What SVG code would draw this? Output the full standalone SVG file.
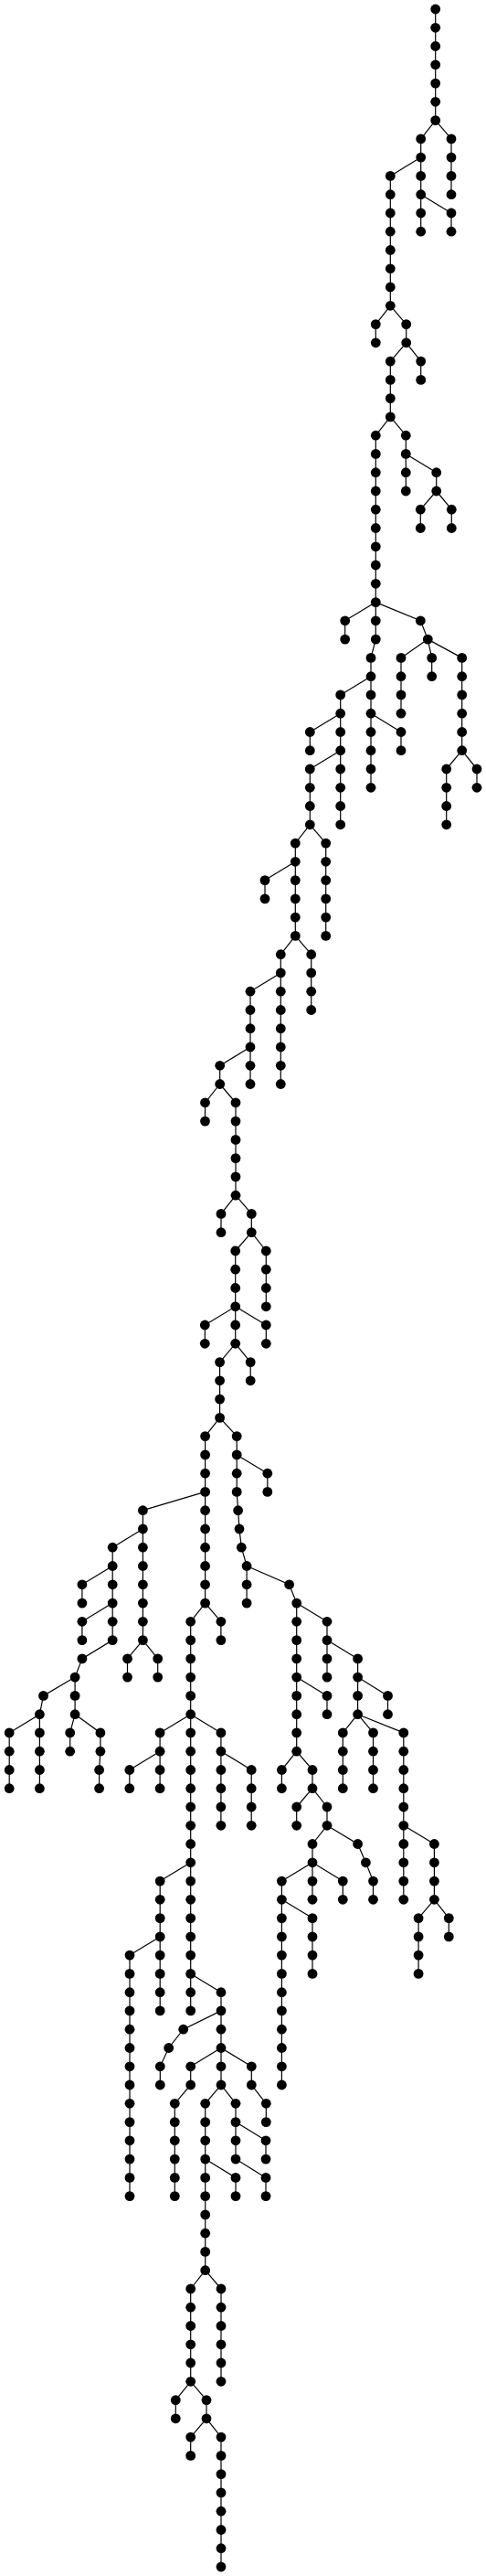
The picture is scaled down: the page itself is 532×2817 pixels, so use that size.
<svg xmlns="http://www.w3.org/2000/svg" width="532" height="2817" viewBox="0 0 532 2817">
<style>
circle{fill:#000}
#edges path{fill:none;stroke:#000;stroke-width:1.2}
</style>
<rect width="532" height="2817" fill="#fff"/>
<g id="edges">
<path d="M476.7 10V131.6"/>
<path d="M494 151.9V212.7"/>
<path d="M460.7 151.9V253.2"/>
<path d="M494 233V253.2"/>
<path d="M427.3 192.4V334.3"/>
<path d="M411.3 354.6V374.8"/>
<path d="M444.7 354.6V374.8"/>
<path d="M460.7 395.1V415.4"/>
<path d="M427.3 395.1V455.9"/>
<path d="M444.3 476.2V537"/>
<path d="M477.7 516.7V537"/>
<path d="M460.3 557.2V577.5"/>
<path d="M494.3 557.2V577.5"/>
<path d="M411.3 476.2V699.1"/>
<path d="M377.7 678.8V699.1"/>
<path d="M406 719.4V861.3"/>
<path d="M372.7 759.9V901.8"/>
<path d="M339.3 800.5V820.7"/>
<path d="M339.3 841V901.8"/>
<path d="M439 800.5V820.7"/>
<path d="M439 719.4V780.2"/>
<path d="M472.7 719.4V739.7"/>
<path d="M505.7 719.4V820.7"/>
<path d="M488.7 841V901.8"/>
<path d="M522 841V861.3"/>
<path d="M323.3 922.1V1023.4"/>
<path d="M356.7 922.1V1023.4"/>
<path d="M290 962.6V982.9"/>
<path d="M340.7 1043.7V1104.5"/>
<path d="M307.3 1043.7V1185.5"/>
<path d="M274 1084.2V1185.5"/>
<path d="M240.7 1165.3V1185.5"/>
<path d="M224.5 1205.8V1226.1"/>
<path d="M258 1205.8V1307.2"/>
<path d="M242 1327.4V1347.7"/>
<path d="M275.3 1327.4V1347.7"/>
<path d="M291.3 1368V1428.8"/>
<path d="M257.7 1368V1469.3"/>
<path d="M224.3 1449V1469.3"/>
<path d="M291.3 1449V1469.3"/>
<path d="M274.2 1489.6V1509.8"/>
<path d="M240.6 1489.6V1550.4"/>
<path d="M224.6 1570.6V1753.1"/>
<path d="M259.2 1570.6V1631.4L260.6 1651.7L262 1672L264.3 1692.2L270.1 1712.5V1753.1"/>
<path d="M292.8 1611.2V1631.4"/>
<path d="M324.7 1753.1V1915.2"/>
<path d="M358 1854.4V1874.7"/>
<path d="M358 1773.3V1834.1"/>
<path d="M391.6 1813.9V1874.7"/>
<path d="M424.5 1854.4V1874.7"/>
<path d="M375.3 1894.9V1955.7"/>
<path d="M408.5 1894.9V1955.7"/>
<path d="M441.8 1894.9V2077.3"/>
<path d="M475.4 2016.5V2077.3"/>
<path d="M458.1 2097.6V2158.4"/>
<path d="M491.3 2097.6V2117.9"/>
<path d="M308.4 1935.5V1955.7"/>
<path d="M342 1935.5V1955.7"/>
<path d="M324.7 1976V1996.3"/>
<path d="M358 1976V1996.3"/>
<path d="M342 2016.5V2077.3"/>
<path d="M375.3 2057.1V2077.3"/>
<path d="M308.4 2057.1V2280"/>
<path d="M342 2097.6V2158.4"/>
<path d="M358 1996.3L391.6 2016.5L400.4 2036.8L408.5 2057.1V2077.3"/>
<path d="M156.4 1651.7V1793.6"/>
<path d="M139.5 1813.9V1834.1"/>
<path d="M172.7 1813.9V1834.1"/>
<path d="M123.2 1692.2V1793.6L89.9 1813.9L82.1 1834.1V1874.7"/>
<path d="M89.9 1732.8V1753.1"/>
<path d="M89.9 1773.3V1793.6"/>
<path d="M82.1 1834.1L47.5 1854.4L43.4 1874.7V1955.7"/>
<path d="M10.2 1894.9V1955.7"/>
<path d="M76.7 1894.9V1915.2"/>
<path d="M82.1 1874.7L109.9 1894.9V1915.2L108.6 1935.5V1955.7"/>
<path d="M241.9 1773.3V1793.6"/>
<path d="M208.7 1773.3V2198.9"/>
<path d="M175.1 1894.9V1955.7"/>
<path d="M141.8 1935.5V1955.7"/>
<path d="M241.9 1894.9V1996.3"/>
<path d="M275.2 1935.5V1996.3"/>
<path d="M175.2 2057.1V2198.9"/>
<path d="M142 2138.1V2401.6"/>
<path d="M242 2178.7V2280"/>
<path d="M242 2198.9L200.7 2219.2L184.7 2239.5L175.3 2259.8V2280"/>
<path d="M208.7 2259.8V2280"/>
<path d="M191.3 2300.3V2401.6"/>
<path d="M275.3 2259.8V2280"/>
<path d="M291.3 2300.3V2320.6"/>
<path d="M224.7 2300.3V2482.7"/>
<path d="M258 2300.3V2361.1"/>
<path d="M291 2340.8V2361.1"/>
<path d="M291 2381.4V2401.6"/>
<path d="M258 2381.4V2401.6"/>
<path d="M208.7 2503V2604.3"/>
<path d="M242 2503V2604.3"/>
<path d="M192.3 2624.6V2644.8"/>
<path d="M226 2624.6V2644.8"/>
<path d="M208.7 2665.1V2685.4"/>
<path d="M242 2665.1V2807"/>
<path d="M476.7 131.6L494 151.9"/>
<path d="M476.7 131.6L460.7 151.9"/>
<path d="M460.7 212.7L494 233"/>
<path d="M460.7 172.1L427.3 192.4"/>
<path d="M427.3 334.3L411.3 354.6"/>
<path d="M427.3 334.3L444.7 354.6"/>
<path d="M444.7 374.8L460.7 395.1"/>
<path d="M444.7 374.8L427.3 395.1"/>
<path d="M427.3 455.9L444.3 476.2"/>
<path d="M427.3 455.9L411.3 476.2"/>
<path d="M444.3 496.4L477.7 516.7"/>
<path d="M477.7 537L460.3 557.2"/>
<path d="M477.7 537L494.3 557.2"/>
<path d="M411.3 658.6L377.7 678.8"/>
<path d="M411.3 658.6L460.3 678.8L468.3 699.1"/>
<path d="M411.3 699.1L406 719.4"/>
<path d="M406 739.7L372.7 759.9"/>
<path d="M372.7 780.2L339.3 800.5"/>
<path d="M372.7 820.7L339.3 841"/>
<path d="M406 780.2L439 800.5"/>
<path d="M468.3 699.1L439 719.4"/>
<path d="M468.3 699.1L472.7 719.4"/>
<path d="M468.3 699.1L505.7 719.4"/>
<path d="M505.7 820.7L488.7 841"/>
<path d="M505.7 820.7L522 841"/>
<path d="M339.3 901.8L323.3 922.1"/>
<path d="M339.3 901.8L356.7 922.1"/>
<path d="M323.3 942.3L290 962.6"/>
<path d="M323.3 1023.4L340.7 1043.7"/>
<path d="M323.3 1023.4L307.3 1043.7"/>
<path d="M307.3 1063.9L274 1084.2"/>
<path d="M274 1145L240.7 1165.3"/>
<path d="M240.7 1185.5L224.5 1205.8"/>
<path d="M240.7 1185.5L258 1205.8"/>
<path d="M258 1307.2L242 1327.4"/>
<path d="M258 1307.2L275.3 1327.4"/>
<path d="M275.3 1347.7L291.3 1368"/>
<path d="M275.3 1347.7L257.7 1368"/>
<path d="M257.7 1428.8L224.3 1449"/>
<path d="M257.7 1428.8L291.3 1449"/>
<path d="M257.7 1469.3L274.2 1489.6"/>
<path d="M257.7 1469.3L240.6 1489.6"/>
<path d="M240.6 1550.4L224.6 1570.6"/>
<path d="M240.6 1550.4L259.2 1570.6"/>
<path d="M259.2 1590.9L292.8 1611.2"/>
<path d="M270.1 1712.5L316.6 1732.8L324.7 1753.1"/>
<path d="M324.7 1834.1L358 1854.4"/>
<path d="M324.7 1753.1L358 1773.3"/>
<path d="M358 1793.6L391.6 1813.9"/>
<path d="M391.6 1834.1L424.5 1854.4"/>
<path d="M391.6 1874.7L375.3 1894.9"/>
<path d="M391.6 1874.7L408.5 1894.9"/>
<path d="M391.6 1874.7L441.8 1894.9"/>
<path d="M441.8 1996.3L475.4 2016.5"/>
<path d="M475.4 2077.3L458.1 2097.6"/>
<path d="M475.4 2077.3L491.3 2097.6"/>
<path d="M324.7 1915.2L308.4 1935.5"/>
<path d="M324.7 1915.2L342 1935.5"/>
<path d="M342 1955.7L324.7 1976"/>
<path d="M342 1955.7L358 1976"/>
<path d="M358 1996.3L342 2016.5"/>
<path d="M342 2036.8L375.3 2057.1"/>
<path d="M342 2036.8L308.4 2057.1"/>
<path d="M308.4 2077.3L342 2097.6"/>
<path d="M224.6 1631.4L156.4 1651.7"/>
<path d="M156.4 1793.6L139.5 1813.9"/>
<path d="M156.4 1793.6L172.7 1813.9"/>
<path d="M156.4 1672L123.2 1692.2"/>
<path d="M123.2 1712.5L89.9 1732.8"/>
<path d="M123.2 1753.1L89.9 1773.3"/>
<path d="M43.4 1874.7L10.2 1894.9"/>
<path d="M82.1 1874.7L76.7 1894.9"/>
<path d="M224.6 1753.1L241.9 1773.3"/>
<path d="M224.6 1753.1L208.7 1773.3"/>
<path d="M208.7 1874.7L175.1 1894.9"/>
<path d="M175.1 1915.2L141.8 1935.5"/>
<path d="M208.7 1874.7L241.9 1894.9"/>
<path d="M241.9 1915.2L275.2 1935.5"/>
<path d="M208.7 2036.8L175.2 2057.1"/>
<path d="M175.2 2117.9L142 2138.1"/>
<path d="M208.7 2158.4L242 2178.7"/>
<path d="M242 2239.5L208.7 2259.8"/>
<path d="M208.7 2280L191.3 2300.3"/>
<path d="M242 2239.5L275.3 2259.8"/>
<path d="M275.3 2280L291.3 2300.3"/>
<path d="M242 2280L224.7 2300.3"/>
<path d="M242 2280L258 2300.3"/>
<path d="M258 2320.6L291 2340.8"/>
<path d="M258 2361.1L291 2381.4"/>
<path d="M224.7 2361.1L258 2381.4"/>
<path d="M224.7 2482.7L208.7 2503"/>
<path d="M224.7 2482.7L242 2503"/>
<path d="M208.7 2604.3L192.3 2624.6"/>
<path d="M208.7 2604.3L226 2624.6"/>
<path d="M226 2644.8L208.7 2665.1"/>
<path d="M226 2644.8L242 2665.1"/>
</g>
<g id="nodes">
<g id="n1"><circle cx="476.7" cy="10" r="5.4"/></g>
<g id="n2"><circle cx="476.7" cy="30.3" r="5.4"/></g>
<g id="n3"><circle cx="476.7" cy="50.5" r="5.4"/></g>
<g id="n4"><circle cx="476.7" cy="70.8" r="5.4"/></g>
<g id="n5"><circle cx="476.7" cy="91.1" r="5.4"/></g>
<g id="n6"><circle cx="476.7" cy="111.3" r="5.4"/></g>
<g id="n7"><circle cx="476.7" cy="131.6" r="5.4"/></g>
<g id="n8"><circle cx="494" cy="151.9" r="5.4"/></g>
<g id="n9"><circle cx="494" cy="172.1" r="5.4"/></g>
<g id="n10"><circle cx="494" cy="192.4" r="5.4"/></g>
<g id="n11"><circle cx="494" cy="212.7" r="5.4"/></g>
<g id="n12"><circle cx="460.7" cy="151.9" r="5.4"/></g>
<g id="n13"><circle cx="460.7" cy="172.1" r="5.4"/></g>
<g id="n14"><circle cx="460.7" cy="192.4" r="5.4"/></g>
<g id="n15"><circle cx="460.7" cy="212.7" r="5.4"/></g>
<g id="n16"><circle cx="460.7" cy="233" r="5.4"/></g>
<g id="n17"><circle cx="460.7" cy="253.2" r="5.4"/></g>
<g id="n18"><circle cx="494" cy="233" r="5.4"/></g>
<g id="n19"><circle cx="494" cy="253.2" r="5.4"/></g>
<g id="n20"><circle cx="427.3" cy="192.4" r="5.4"/></g>
<g id="n21"><circle cx="427.3" cy="212.7" r="5.4"/></g>
<g id="n22"><circle cx="427.3" cy="233" r="5.4"/></g>
<g id="n23"><circle cx="427.3" cy="253.2" r="5.4"/></g>
<g id="n24"><circle cx="427.3" cy="273.5" r="5.4"/></g>
<g id="n25"><circle cx="427.3" cy="293.8" r="5.4"/></g>
<g id="n26"><circle cx="427.3" cy="314" r="5.4"/></g>
<g id="n27"><circle cx="427.3" cy="334.3" r="5.4"/></g>
<g id="n28"><circle cx="411.3" cy="354.6" r="5.4"/></g>
<g id="n29"><circle cx="411.3" cy="374.8" r="5.4"/></g>
<g id="n30"><circle cx="444.7" cy="354.6" r="5.4"/></g>
<g id="n31"><circle cx="444.7" cy="374.8" r="5.4"/></g>
<g id="n32"><circle cx="460.7" cy="395.1" r="5.4"/></g>
<g id="n33"><circle cx="460.7" cy="415.4" r="5.4"/></g>
<g id="n34"><circle cx="427.3" cy="395.1" r="5.4"/></g>
<g id="n35"><circle cx="427.3" cy="415.4" r="5.4"/></g>
<g id="n36"><circle cx="427.3" cy="435.6" r="5.4"/></g>
<g id="n37"><circle cx="427.3" cy="455.9" r="5.4"/></g>
<g id="n38"><circle cx="444.3" cy="476.2" r="5.4"/></g>
<g id="n39"><circle cx="444.3" cy="496.4" r="5.4"/></g>
<g id="n40"><circle cx="444.3" cy="516.7" r="5.4"/></g>
<g id="n41"><circle cx="444.3" cy="537" r="5.4"/></g>
<g id="n42"><circle cx="477.7" cy="516.7" r="5.4"/></g>
<g id="n43"><circle cx="477.7" cy="537" r="5.4"/></g>
<g id="n44"><circle cx="460.3" cy="557.2" r="5.4"/></g>
<g id="n45"><circle cx="460.3" cy="577.5" r="5.4"/></g>
<g id="n46"><circle cx="494.3" cy="557.2" r="5.4"/></g>
<g id="n47"><circle cx="494.3" cy="577.5" r="5.4"/></g>
<g id="n48"><circle cx="411.3" cy="476.2" r="5.4"/></g>
<g id="n49"><circle cx="411.3" cy="496.4" r="5.4"/></g>
<g id="n50"><circle cx="411.3" cy="516.7" r="5.4"/></g>
<g id="n51"><circle cx="411.3" cy="537" r="5.4"/></g>
<g id="n52"><circle cx="411.3" cy="557.2" r="5.4"/></g>
<g id="n53"><circle cx="411.3" cy="577.5" r="5.4"/></g>
<g id="n54"><circle cx="411.3" cy="597.8" r="5.4"/></g>
<g id="n55"><circle cx="411.3" cy="618" r="5.4"/></g>
<g id="n56"><circle cx="411.3" cy="638.3" r="5.4"/></g>
<g id="n57"><circle cx="411.3" cy="658.6" r="5.4"/></g>
<g id="n58"><circle cx="411.3" cy="678.8" r="5.4"/></g>
<g id="n59"><circle cx="411.3" cy="699.1" r="5.4"/></g>
<g id="n60"><circle cx="377.7" cy="678.8" r="5.4"/></g>
<g id="n61"><circle cx="377.7" cy="699.1" r="5.4"/></g>
<g id="n62"><circle cx="460.3" cy="678.8" r="5.4"/></g>
<g id="n63"><circle cx="468.3" cy="699.1" r="5.4"/></g>
<g id="n64"><circle cx="406" cy="719.4" r="5.4"/></g>
<g id="n65"><circle cx="406" cy="739.7" r="5.4"/></g>
<g id="n66"><circle cx="406" cy="759.9" r="5.4"/></g>
<g id="n67"><circle cx="406" cy="780.2" r="5.4"/></g>
<g id="n68"><circle cx="406" cy="800.5" r="5.4"/></g>
<g id="n69"><circle cx="406" cy="820.7" r="5.4"/></g>
<g id="n70"><circle cx="406" cy="841" r="5.4"/></g>
<g id="n71"><circle cx="406" cy="861.3" r="5.4"/></g>
<g id="n72"><circle cx="372.7" cy="759.9" r="5.4"/></g>
<g id="n73"><circle cx="372.7" cy="780.2" r="5.4"/></g>
<g id="n74"><circle cx="372.7" cy="800.5" r="5.4"/></g>
<g id="n75"><circle cx="372.7" cy="820.7" r="5.4"/></g>
<g id="n76"><circle cx="372.7" cy="841" r="5.4"/></g>
<g id="n77"><circle cx="372.7" cy="861.3" r="5.4"/></g>
<g id="n78"><circle cx="372.7" cy="881.5" r="5.4"/></g>
<g id="n79"><circle cx="372.7" cy="901.8" r="5.4"/></g>
<g id="n80"><circle cx="339.3" cy="800.5" r="5.4"/></g>
<g id="n81"><circle cx="339.3" cy="820.7" r="5.4"/></g>
<g id="n82"><circle cx="339.3" cy="841" r="5.4"/></g>
<g id="n83"><circle cx="339.3" cy="861.3" r="5.4"/></g>
<g id="n84"><circle cx="339.3" cy="881.5" r="5.4"/></g>
<g id="n85"><circle cx="339.3" cy="901.8" r="5.4"/></g>
<g id="n86"><circle cx="439" cy="800.5" r="5.4"/></g>
<g id="n87"><circle cx="439" cy="820.7" r="5.4"/></g>
<g id="n88"><circle cx="439" cy="719.4" r="5.4"/></g>
<g id="n89"><circle cx="439" cy="739.7" r="5.4"/></g>
<g id="n90"><circle cx="439" cy="759.9" r="5.4"/></g>
<g id="n91"><circle cx="439" cy="780.2" r="5.4"/></g>
<g id="n92"><circle cx="472.7" cy="719.4" r="5.4"/></g>
<g id="n93"><circle cx="472.7" cy="739.7" r="5.4"/></g>
<g id="n94"><circle cx="505.7" cy="719.4" r="5.4"/></g>
<g id="n95"><circle cx="505.7" cy="739.7" r="5.4"/></g>
<g id="n96"><circle cx="505.7" cy="759.9" r="5.4"/></g>
<g id="n97"><circle cx="505.7" cy="780.2" r="5.4"/></g>
<g id="n98"><circle cx="505.7" cy="800.5" r="5.4"/></g>
<g id="n99"><circle cx="505.7" cy="820.7" r="5.4"/></g>
<g id="n100"><circle cx="488.7" cy="841" r="5.4"/></g>
<g id="n101"><circle cx="488.7" cy="861.3" r="5.4"/></g>
<g id="n102"><circle cx="488.7" cy="881.5" r="5.4"/></g>
<g id="n103"><circle cx="488.7" cy="901.8" r="5.4"/></g>
<g id="n104"><circle cx="522" cy="841" r="5.4"/></g>
<g id="n105"><circle cx="522" cy="861.3" r="5.4"/></g>
<g id="n106"><circle cx="323.3" cy="922.1" r="5.4"/></g>
<g id="n107"><circle cx="323.3" cy="942.3" r="5.4"/></g>
<g id="n108"><circle cx="323.3" cy="962.6" r="5.4"/></g>
<g id="n109"><circle cx="323.3" cy="982.9" r="5.4"/></g>
<g id="n110"><circle cx="323.3" cy="1003.1" r="5.4"/></g>
<g id="n111"><circle cx="323.3" cy="1023.4" r="5.4"/></g>
<g id="n112"><circle cx="356.7" cy="922.1" r="5.4"/></g>
<g id="n113"><circle cx="356.7" cy="942.3" r="5.4"/></g>
<g id="n114"><circle cx="356.7" cy="962.6" r="5.4"/></g>
<g id="n115"><circle cx="356.7" cy="982.9" r="5.4"/></g>
<g id="n116"><circle cx="356.7" cy="1003.1" r="5.4"/></g>
<g id="n117"><circle cx="356.7" cy="1023.4" r="5.4"/></g>
<g id="n118"><circle cx="290" cy="962.6" r="5.4"/></g>
<g id="n119"><circle cx="290" cy="982.9" r="5.4"/></g>
<g id="n120"><circle cx="340.7" cy="1043.7" r="5.4"/></g>
<g id="n121"><circle cx="340.7" cy="1063.9" r="5.4"/></g>
<g id="n122"><circle cx="340.7" cy="1084.2" r="5.4"/></g>
<g id="n123"><circle cx="340.7" cy="1104.5" r="5.4"/></g>
<g id="n124"><circle cx="307.3" cy="1043.7" r="5.4"/></g>
<g id="n125"><circle cx="307.3" cy="1063.9" r="5.4"/></g>
<g id="n126"><circle cx="307.3" cy="1084.2" r="5.4"/></g>
<g id="n127"><circle cx="307.3" cy="1104.5" r="5.4"/></g>
<g id="n128"><circle cx="307.3" cy="1124.7" r="5.4"/></g>
<g id="n129"><circle cx="307.3" cy="1145" r="5.4"/></g>
<g id="n130"><circle cx="307.3" cy="1165.3" r="5.4"/></g>
<g id="n131"><circle cx="307.3" cy="1185.5" r="5.4"/></g>
<g id="n132"><circle cx="274" cy="1084.2" r="5.4"/></g>
<g id="n133"><circle cx="274" cy="1104.5" r="5.4"/></g>
<g id="n134"><circle cx="274" cy="1124.7" r="5.4"/></g>
<g id="n135"><circle cx="274" cy="1145" r="5.4"/></g>
<g id="n136"><circle cx="274" cy="1165.3" r="5.4"/></g>
<g id="n137"><circle cx="274" cy="1185.5" r="5.4"/></g>
<g id="n138"><circle cx="240.7" cy="1165.3" r="5.4"/></g>
<g id="n139"><circle cx="240.7" cy="1185.5" r="5.4"/></g>
<g id="n140"><circle cx="224.5" cy="1205.8" r="5.4"/></g>
<g id="n141"><circle cx="224.5" cy="1226.1" r="5.4"/></g>
<g id="n142"><circle cx="258" cy="1205.8" r="5.4"/></g>
<g id="n143"><circle cx="258" cy="1226.1" r="5.4"/></g>
<g id="n144"><circle cx="258" cy="1246.4" r="5.4"/></g>
<g id="n145"><circle cx="258" cy="1266.6" r="5.4"/></g>
<g id="n146"><circle cx="258" cy="1286.9" r="5.4"/></g>
<g id="n147"><circle cx="258" cy="1307.2" r="5.4"/></g>
<g id="n148"><circle cx="242" cy="1327.4" r="5.4"/></g>
<g id="n149"><circle cx="242" cy="1347.7" r="5.4"/></g>
<g id="n150"><circle cx="275.3" cy="1327.4" r="5.4"/></g>
<g id="n151"><circle cx="275.3" cy="1347.7" r="5.4"/></g>
<g id="n152"><circle cx="291.3" cy="1368" r="5.4"/></g>
<g id="n153"><circle cx="291.3" cy="1388.2" r="5.4"/></g>
<g id="n154"><circle cx="291.3" cy="1408.5" r="5.4"/></g>
<g id="n155"><circle cx="291.3" cy="1428.8" r="5.4"/></g>
<g id="n156"><circle cx="257.7" cy="1368" r="5.4"/></g>
<g id="n157"><circle cx="257.7" cy="1388.2" r="5.4"/></g>
<g id="n158"><circle cx="257.7" cy="1408.5" r="5.4"/></g>
<g id="n159"><circle cx="257.7" cy="1428.8" r="5.4"/></g>
<g id="n160"><circle cx="257.7" cy="1449" r="5.4"/></g>
<g id="n161"><circle cx="257.7" cy="1469.3" r="5.4"/></g>
<g id="n162"><circle cx="224.3" cy="1449" r="5.4"/></g>
<g id="n163"><circle cx="224.3" cy="1469.3" r="5.4"/></g>
<g id="n164"><circle cx="291.3" cy="1449" r="5.4"/></g>
<g id="n165"><circle cx="291.3" cy="1469.3" r="5.4"/></g>
<g id="n166"><circle cx="274.2" cy="1489.6" r="5.4"/></g>
<g id="n167"><circle cx="274.2" cy="1509.8" r="5.4"/></g>
<g id="n168"><circle cx="240.6" cy="1489.6" r="5.4"/></g>
<g id="n169"><circle cx="240.6" cy="1509.8" r="5.4"/></g>
<g id="n170"><circle cx="240.6" cy="1530.1" r="5.4"/></g>
<g id="n171"><circle cx="240.6" cy="1550.4" r="5.4"/></g>
<g id="n172"><circle cx="224.6" cy="1570.6" r="5.4"/></g>
<g id="n173"><circle cx="224.6" cy="1590.9" r="5.4"/></g>
<g id="n174"><circle cx="224.6" cy="1611.2" r="5.4"/></g>
<g id="n175"><circle cx="224.6" cy="1631.4" r="5.4"/></g>
<g id="n176"><circle cx="224.6" cy="1651.7" r="5.4"/></g>
<g id="n177"><circle cx="224.6" cy="1672" r="5.4"/></g>
<g id="n178"><circle cx="224.6" cy="1692.2" r="5.4"/></g>
<g id="n179"><circle cx="224.6" cy="1712.5" r="5.4"/></g>
<g id="n180"><circle cx="224.6" cy="1732.8" r="5.4"/></g>
<g id="n181"><circle cx="224.6" cy="1753.1" r="5.4"/></g>
<g id="n182"><circle cx="259.2" cy="1570.6" r="5.4"/></g>
<g id="n183"><circle cx="259.2" cy="1590.9" r="5.4"/></g>
<g id="n184"><circle cx="259.2" cy="1611.2" r="5.4"/></g>
<g id="n185"><circle cx="259.2" cy="1631.4" r="5.4"/></g>
<g id="n186"><circle cx="260.6" cy="1651.7" r="5.4"/></g>
<g id="n187"><circle cx="262" cy="1672" r="5.4"/></g>
<g id="n188"><circle cx="264.3" cy="1692.2" r="5.4"/></g>
<g id="n189"><circle cx="270.1" cy="1712.5" r="5.4"/></g>
<g id="n190"><circle cx="292.8" cy="1611.2" r="5.4"/></g>
<g id="n191"><circle cx="292.8" cy="1631.4" r="5.4"/></g>
<g id="n192"><circle cx="270.1" cy="1732.8" r="5.4"/></g>
<g id="n193"><circle cx="270.1" cy="1753.1" r="5.4"/></g>
<g id="n194"><circle cx="316.6" cy="1732.8" r="5.4"/></g>
<g id="n195"><circle cx="324.7" cy="1753.1" r="5.4"/></g>
<g id="n196"><circle cx="324.7" cy="1773.3" r="5.4"/></g>
<g id="n197"><circle cx="324.7" cy="1793.6" r="5.4"/></g>
<g id="n198"><circle cx="324.7" cy="1813.9" r="5.4"/></g>
<g id="n199"><circle cx="324.7" cy="1834.1" r="5.4"/></g>
<g id="n200"><circle cx="324.7" cy="1854.4" r="5.4"/></g>
<g id="n201"><circle cx="324.7" cy="1874.7" r="5.4"/></g>
<g id="n202"><circle cx="324.7" cy="1894.9" r="5.4"/></g>
<g id="n203"><circle cx="324.7" cy="1915.2" r="5.4"/></g>
<g id="n204"><circle cx="358" cy="1854.4" r="5.4"/></g>
<g id="n205"><circle cx="358" cy="1874.7" r="5.4"/></g>
<g id="n206"><circle cx="358" cy="1773.3" r="5.4"/></g>
<g id="n207"><circle cx="358" cy="1793.6" r="5.4"/></g>
<g id="n208"><circle cx="358" cy="1813.9" r="5.4"/></g>
<g id="n209"><circle cx="358" cy="1834.1" r="5.4"/></g>
<g id="n210"><circle cx="391.6" cy="1813.9" r="5.4"/></g>
<g id="n211"><circle cx="391.6" cy="1834.1" r="5.4"/></g>
<g id="n212"><circle cx="391.6" cy="1854.4" r="5.4"/></g>
<g id="n213"><circle cx="391.6" cy="1874.7" r="5.4"/></g>
<g id="n214"><circle cx="424.5" cy="1854.4" r="5.4"/></g>
<g id="n215"><circle cx="424.5" cy="1874.7" r="5.4"/></g>
<g id="n216"><circle cx="375.3" cy="1894.9" r="5.4"/></g>
<g id="n217"><circle cx="375.3" cy="1915.2" r="5.4"/></g>
<g id="n218"><circle cx="375.3" cy="1935.5" r="5.4"/></g>
<g id="n219"><circle cx="375.3" cy="1955.7" r="5.4"/></g>
<g id="n220"><circle cx="408.5" cy="1894.9" r="5.4"/></g>
<g id="n221"><circle cx="408.5" cy="1915.2" r="5.4"/></g>
<g id="n222"><circle cx="408.5" cy="1935.5" r="5.4"/></g>
<g id="n223"><circle cx="408.5" cy="1955.7" r="5.4"/></g>
<g id="n224"><circle cx="441.8" cy="1894.9" r="5.4"/></g>
<g id="n225"><circle cx="441.8" cy="1915.2" r="5.4"/></g>
<g id="n226"><circle cx="441.8" cy="1935.5" r="5.4"/></g>
<g id="n227"><circle cx="441.8" cy="1955.7" r="5.4"/></g>
<g id="n228"><circle cx="441.8" cy="1976" r="5.4"/></g>
<g id="n229"><circle cx="441.8" cy="1996.3" r="5.4"/></g>
<g id="n230"><circle cx="441.8" cy="2016.5" r="5.4"/></g>
<g id="n231"><circle cx="441.8" cy="2036.8" r="5.4"/></g>
<g id="n232"><circle cx="441.8" cy="2057.1" r="5.4"/></g>
<g id="n233"><circle cx="441.8" cy="2077.3" r="5.4"/></g>
<g id="n234"><circle cx="475.4" cy="2016.5" r="5.4"/></g>
<g id="n235"><circle cx="475.4" cy="2036.8" r="5.4"/></g>
<g id="n236"><circle cx="475.4" cy="2057.1" r="5.4"/></g>
<g id="n237"><circle cx="475.4" cy="2077.3" r="5.4"/></g>
<g id="n238"><circle cx="458.1" cy="2097.6" r="5.4"/></g>
<g id="n239"><circle cx="458.1" cy="2117.9" r="5.4"/></g>
<g id="n240"><circle cx="458.1" cy="2138.1" r="5.4"/></g>
<g id="n241"><circle cx="458.1" cy="2158.4" r="5.4"/></g>
<g id="n242"><circle cx="491.3" cy="2097.6" r="5.4"/></g>
<g id="n243"><circle cx="491.3" cy="2117.9" r="5.4"/></g>
<g id="n244"><circle cx="308.4" cy="1935.5" r="5.4"/></g>
<g id="n245"><circle cx="308.4" cy="1955.7" r="5.4"/></g>
<g id="n246"><circle cx="342" cy="1935.5" r="5.4"/></g>
<g id="n247"><circle cx="342" cy="1955.7" r="5.4"/></g>
<g id="n248"><circle cx="324.7" cy="1976" r="5.4"/></g>
<g id="n249"><circle cx="324.7" cy="1996.3" r="5.4"/></g>
<g id="n250"><circle cx="358" cy="1976" r="5.4"/></g>
<g id="n251"><circle cx="358" cy="1996.3" r="5.4"/></g>
<g id="n252"><circle cx="342" cy="2016.5" r="5.4"/></g>
<g id="n253"><circle cx="342" cy="2036.8" r="5.4"/></g>
<g id="n254"><circle cx="342" cy="2057.1" r="5.4"/></g>
<g id="n255"><circle cx="342" cy="2077.3" r="5.4"/></g>
<g id="n256"><circle cx="375.3" cy="2057.1" r="5.4"/></g>
<g id="n257"><circle cx="375.3" cy="2077.3" r="5.4"/></g>
<g id="n258"><circle cx="308.4" cy="2057.1" r="5.4"/></g>
<g id="n259"><circle cx="308.4" cy="2077.3" r="5.4"/></g>
<g id="n260"><circle cx="308.4" cy="2097.6" r="5.4"/></g>
<g id="n261"><circle cx="308.4" cy="2117.9" r="5.4"/></g>
<g id="n262"><circle cx="308.4" cy="2138.1" r="5.4"/></g>
<g id="n263"><circle cx="308.4" cy="2158.4" r="5.4"/></g>
<g id="n264"><circle cx="308.4" cy="2178.7" r="5.4"/></g>
<g id="n265"><circle cx="308.4" cy="2198.9" r="5.4"/></g>
<g id="n266"><circle cx="308.4" cy="2219.2" r="5.4"/></g>
<g id="n267"><circle cx="308.4" cy="2239.5" r="5.4"/></g>
<g id="n268"><circle cx="308.4" cy="2259.8" r="5.4"/></g>
<g id="n269"><circle cx="308.4" cy="2280" r="5.4"/></g>
<g id="n270"><circle cx="342" cy="2097.6" r="5.4"/></g>
<g id="n271"><circle cx="342" cy="2117.9" r="5.4"/></g>
<g id="n272"><circle cx="342" cy="2138.1" r="5.4"/></g>
<g id="n273"><circle cx="342" cy="2158.4" r="5.4"/></g>
<g id="n274"><circle cx="391.6" cy="2016.5" r="5.4"/></g>
<g id="n275"><circle cx="400.4" cy="2036.8" r="5.4"/></g>
<g id="n276"><circle cx="408.5" cy="2057.1" r="5.4"/></g>
<g id="n277"><circle cx="408.5" cy="2077.3" r="5.4"/></g>
<g id="n278"><circle cx="156.4" cy="1651.7" r="5.4"/></g>
<g id="n279"><circle cx="156.4" cy="1672" r="5.4"/></g>
<g id="n280"><circle cx="156.4" cy="1692.2" r="5.4"/></g>
<g id="n281"><circle cx="156.4" cy="1712.5" r="5.4"/></g>
<g id="n282"><circle cx="156.4" cy="1732.8" r="5.4"/></g>
<g id="n283"><circle cx="156.4" cy="1753.1" r="5.4"/></g>
<g id="n284"><circle cx="156.4" cy="1773.3" r="5.4"/></g>
<g id="n285"><circle cx="156.4" cy="1793.6" r="5.4"/></g>
<g id="n286"><circle cx="139.5" cy="1813.9" r="5.4"/></g>
<g id="n287"><circle cx="139.5" cy="1834.1" r="5.4"/></g>
<g id="n288"><circle cx="172.7" cy="1813.9" r="5.4"/></g>
<g id="n289"><circle cx="172.7" cy="1834.1" r="5.4"/></g>
<g id="n290"><circle cx="123.2" cy="1692.2" r="5.4"/></g>
<g id="n291"><circle cx="123.2" cy="1712.5" r="5.4"/></g>
<g id="n292"><circle cx="123.2" cy="1732.8" r="5.4"/></g>
<g id="n293"><circle cx="123.2" cy="1753.1" r="5.4"/></g>
<g id="n294"><circle cx="123.2" cy="1773.3" r="5.4"/></g>
<g id="n295"><circle cx="123.2" cy="1793.6" r="5.4"/></g>
<g id="n296"><circle cx="89.9" cy="1732.8" r="5.4"/></g>
<g id="n297"><circle cx="89.9" cy="1753.1" r="5.4"/></g>
<g id="n298"><circle cx="89.9" cy="1773.3" r="5.4"/></g>
<g id="n299"><circle cx="89.9" cy="1793.6" r="5.4"/></g>
<g id="n300"><circle cx="89.9" cy="1813.9" r="5.4"/></g>
<g id="n301"><circle cx="82.1" cy="1834.1" r="5.4"/></g>
<g id="n302"><circle cx="82.1" cy="1854.4" r="5.4"/></g>
<g id="n303"><circle cx="82.1" cy="1874.7" r="5.4"/></g>
<g id="n304"><circle cx="47.5" cy="1854.4" r="5.4"/></g>
<g id="n305"><circle cx="43.4" cy="1874.7" r="5.4"/></g>
<g id="n306"><circle cx="43.4" cy="1894.9" r="5.4"/></g>
<g id="n307"><circle cx="43.4" cy="1915.2" r="5.4"/></g>
<g id="n308"><circle cx="43.4" cy="1935.5" r="5.4"/></g>
<g id="n309"><circle cx="43.4" cy="1955.7" r="5.4"/></g>
<g id="n310"><circle cx="10.2" cy="1894.9" r="5.4"/></g>
<g id="n311"><circle cx="10.2" cy="1915.2" r="5.4"/></g>
<g id="n312"><circle cx="10.2" cy="1935.5" r="5.4"/></g>
<g id="n313"><circle cx="10.2" cy="1955.7" r="5.4"/></g>
<g id="n314"><circle cx="76.7" cy="1894.9" r="5.4"/></g>
<g id="n315"><circle cx="76.7" cy="1915.2" r="5.4"/></g>
<g id="n316"><circle cx="109.9" cy="1894.9" r="5.4"/></g>
<g id="n317"><circle cx="109.9" cy="1915.2" r="5.4"/></g>
<g id="n318"><circle cx="108.6" cy="1935.5" r="5.4"/></g>
<g id="n319"><circle cx="108.6" cy="1955.7" r="5.4"/></g>
<g id="n320"><circle cx="241.9" cy="1773.3" r="5.4"/></g>
<g id="n321"><circle cx="241.9" cy="1793.6" r="5.4"/></g>
<g id="n322"><circle cx="208.7" cy="1773.3" r="5.4"/></g>
<g id="n323"><circle cx="208.7" cy="1793.6" r="5.4"/></g>
<g id="n324"><circle cx="208.7" cy="1813.9" r="5.4"/></g>
<g id="n325"><circle cx="208.7" cy="1834.1" r="5.4"/></g>
<g id="n326"><circle cx="208.7" cy="1854.4" r="5.4"/></g>
<g id="n327"><circle cx="208.7" cy="1874.7" r="5.4"/></g>
<g id="n328"><circle cx="208.7" cy="1894.9" r="5.4"/></g>
<g id="n329"><circle cx="208.7" cy="1915.2" r="5.4"/></g>
<g id="n330"><circle cx="208.7" cy="1935.5" r="5.4"/></g>
<g id="n331"><circle cx="208.7" cy="1955.7" r="5.4"/></g>
<g id="n332"><circle cx="208.7" cy="1976" r="5.4"/></g>
<g id="n333"><circle cx="208.7" cy="1996.3" r="5.4"/></g>
<g id="n334"><circle cx="208.7" cy="2016.5" r="5.4"/></g>
<g id="n335"><circle cx="208.7" cy="2036.8" r="5.4"/></g>
<g id="n336"><circle cx="208.7" cy="2057.1" r="5.4"/></g>
<g id="n337"><circle cx="208.7" cy="2077.3" r="5.4"/></g>
<g id="n338"><circle cx="208.7" cy="2097.6" r="5.4"/></g>
<g id="n339"><circle cx="208.7" cy="2117.9" r="5.4"/></g>
<g id="n340"><circle cx="208.7" cy="2138.1" r="5.4"/></g>
<g id="n341"><circle cx="208.7" cy="2158.4" r="5.4"/></g>
<g id="n342"><circle cx="208.7" cy="2178.7" r="5.4"/></g>
<g id="n343"><circle cx="208.7" cy="2198.9" r="5.4"/></g>
<g id="n344"><circle cx="175.1" cy="1894.9" r="5.4"/></g>
<g id="n345"><circle cx="175.1" cy="1915.2" r="5.4"/></g>
<g id="n346"><circle cx="175.1" cy="1935.5" r="5.4"/></g>
<g id="n347"><circle cx="175.1" cy="1955.7" r="5.4"/></g>
<g id="n348"><circle cx="141.8" cy="1935.5" r="5.4"/></g>
<g id="n349"><circle cx="141.8" cy="1955.7" r="5.4"/></g>
<g id="n350"><circle cx="241.9" cy="1894.9" r="5.4"/></g>
<g id="n351"><circle cx="241.9" cy="1915.2" r="5.4"/></g>
<g id="n352"><circle cx="241.9" cy="1935.5" r="5.4"/></g>
<g id="n353"><circle cx="241.9" cy="1955.7" r="5.4"/></g>
<g id="n354"><circle cx="241.9" cy="1976" r="5.4"/></g>
<g id="n355"><circle cx="241.9" cy="1996.3" r="5.4"/></g>
<g id="n356"><circle cx="275.2" cy="1935.5" r="5.4"/></g>
<g id="n357"><circle cx="275.2" cy="1955.7" r="5.4"/></g>
<g id="n358"><circle cx="275.2" cy="1976" r="5.4"/></g>
<g id="n359"><circle cx="275.2" cy="1996.3" r="5.4"/></g>
<g id="n360"><circle cx="175.2" cy="2057.1" r="5.4"/></g>
<g id="n361"><circle cx="175.2" cy="2077.3" r="5.4"/></g>
<g id="n362"><circle cx="175.2" cy="2097.6" r="5.4"/></g>
<g id="n363"><circle cx="175.2" cy="2117.9" r="5.4"/></g>
<g id="n364"><circle cx="175.2" cy="2138.1" r="5.4"/></g>
<g id="n365"><circle cx="175.2" cy="2158.4" r="5.4"/></g>
<g id="n366"><circle cx="175.2" cy="2178.7" r="5.4"/></g>
<g id="n367"><circle cx="175.2" cy="2198.9" r="5.4"/></g>
<g id="n368"><circle cx="142" cy="2138.1" r="5.4"/></g>
<g id="n369"><circle cx="142" cy="2158.4" r="5.4"/></g>
<g id="n370"><circle cx="142" cy="2178.7" r="5.4"/></g>
<g id="n371"><circle cx="142" cy="2198.9" r="5.4"/></g>
<g id="n372"><circle cx="142" cy="2219.2" r="5.4"/></g>
<g id="n373"><circle cx="142" cy="2239.5" r="5.4"/></g>
<g id="n374"><circle cx="142" cy="2259.8" r="5.4"/></g>
<g id="n375"><circle cx="142" cy="2280" r="5.4"/></g>
<g id="n376"><circle cx="142" cy="2300.3" r="5.4"/></g>
<g id="n377"><circle cx="142" cy="2320.6" r="5.4"/></g>
<g id="n378"><circle cx="142" cy="2340.8" r="5.4"/></g>
<g id="n379"><circle cx="142" cy="2361.1" r="5.4"/></g>
<g id="n380"><circle cx="142" cy="2381.4" r="5.4"/></g>
<g id="n381"><circle cx="142" cy="2401.6" r="5.4"/></g>
<g id="n382"><circle cx="242" cy="2178.7" r="5.4"/></g>
<g id="n383"><circle cx="242" cy="2198.9" r="5.4"/></g>
<g id="n384"><circle cx="242" cy="2219.2" r="5.4"/></g>
<g id="n385"><circle cx="242" cy="2239.5" r="5.4"/></g>
<g id="n386"><circle cx="242" cy="2259.8" r="5.4"/></g>
<g id="n387"><circle cx="242" cy="2280" r="5.4"/></g>
<g id="n388"><circle cx="200.7" cy="2219.2" r="5.4"/></g>
<g id="n389"><circle cx="184.7" cy="2239.5" r="5.4"/></g>
<g id="n390"><circle cx="175.3" cy="2259.8" r="5.4"/></g>
<g id="n391"><circle cx="175.3" cy="2280" r="5.4"/></g>
<g id="n392"><circle cx="208.7" cy="2259.8" r="5.4"/></g>
<g id="n393"><circle cx="208.7" cy="2280" r="5.4"/></g>
<g id="n394"><circle cx="191.3" cy="2300.3" r="5.4"/></g>
<g id="n395"><circle cx="191.3" cy="2320.6" r="5.4"/></g>
<g id="n396"><circle cx="191.3" cy="2340.8" r="5.4"/></g>
<g id="n397"><circle cx="191.3" cy="2361.1" r="5.4"/></g>
<g id="n398"><circle cx="191.3" cy="2381.4" r="5.4"/></g>
<g id="n399"><circle cx="191.3" cy="2401.6" r="5.4"/></g>
<g id="n400"><circle cx="275.3" cy="2259.8" r="5.4"/></g>
<g id="n401"><circle cx="275.3" cy="2280" r="5.4"/></g>
<g id="n402"><circle cx="291.3" cy="2300.3" r="5.4"/></g>
<g id="n403"><circle cx="291.3" cy="2320.6" r="5.4"/></g>
<g id="n404"><circle cx="224.7" cy="2300.3" r="5.4"/></g>
<g id="n405"><circle cx="224.7" cy="2320.6" r="5.4"/></g>
<g id="n406"><circle cx="224.7" cy="2340.8" r="5.4"/></g>
<g id="n407"><circle cx="224.7" cy="2361.1" r="5.4"/></g>
<g id="n408"><circle cx="224.7" cy="2381.4" r="5.4"/></g>
<g id="n409"><circle cx="224.7" cy="2401.6" r="5.4"/></g>
<g id="n410"><circle cx="224.7" cy="2421.9" r="5.4"/></g>
<g id="n411"><circle cx="224.7" cy="2442.2" r="5.4"/></g>
<g id="n412"><circle cx="224.7" cy="2462.4" r="5.4"/></g>
<g id="n413"><circle cx="224.7" cy="2482.7" r="5.4"/></g>
<g id="n414"><circle cx="258" cy="2300.3" r="5.4"/></g>
<g id="n415"><circle cx="258" cy="2320.6" r="5.4"/></g>
<g id="n416"><circle cx="258" cy="2340.8" r="5.4"/></g>
<g id="n417"><circle cx="258" cy="2361.1" r="5.4"/></g>
<g id="n418"><circle cx="291" cy="2340.8" r="5.4"/></g>
<g id="n419"><circle cx="291" cy="2361.1" r="5.4"/></g>
<g id="n420"><circle cx="291" cy="2381.4" r="5.4"/></g>
<g id="n421"><circle cx="291" cy="2401.6" r="5.4"/></g>
<g id="n422"><circle cx="258" cy="2381.4" r="5.4"/></g>
<g id="n423"><circle cx="258" cy="2401.6" r="5.4"/></g>
<g id="n424"><circle cx="208.7" cy="2503" r="5.4"/></g>
<g id="n425"><circle cx="208.7" cy="2523.2" r="5.4"/></g>
<g id="n426"><circle cx="208.7" cy="2543.5" r="5.4"/></g>
<g id="n427"><circle cx="208.7" cy="2563.8" r="5.4"/></g>
<g id="n428"><circle cx="208.7" cy="2584" r="5.4"/></g>
<g id="n429"><circle cx="208.7" cy="2604.3" r="5.4"/></g>
<g id="n430"><circle cx="242" cy="2503" r="5.4"/></g>
<g id="n431"><circle cx="242" cy="2523.2" r="5.4"/></g>
<g id="n432"><circle cx="242" cy="2543.5" r="5.4"/></g>
<g id="n433"><circle cx="242" cy="2563.8" r="5.4"/></g>
<g id="n434"><circle cx="242" cy="2584" r="5.4"/></g>
<g id="n435"><circle cx="242" cy="2604.3" r="5.4"/></g>
<g id="n436"><circle cx="192.3" cy="2624.6" r="5.4"/></g>
<g id="n437"><circle cx="192.3" cy="2644.8" r="5.4"/></g>
<g id="n438"><circle cx="226" cy="2624.6" r="5.4"/></g>
<g id="n439"><circle cx="226" cy="2644.8" r="5.4"/></g>
<g id="n440"><circle cx="208.7" cy="2665.1" r="5.4"/></g>
<g id="n441"><circle cx="208.7" cy="2685.4" r="5.4"/></g>
<g id="n442"><circle cx="242" cy="2665.1" r="5.4"/></g>
<g id="n443"><circle cx="242" cy="2685.4" r="5.4"/></g>
<g id="n444"><circle cx="242" cy="2705.6" r="5.4"/></g>
<g id="n445"><circle cx="242" cy="2725.9" r="5.4"/></g>
<g id="n446"><circle cx="242" cy="2746.2" r="5.4"/></g>
<g id="n447"><circle cx="242" cy="2766.5" r="5.4"/></g>
<g id="n448"><circle cx="242" cy="2786.7" r="5.4"/></g>
<g id="n449"><circle cx="242" cy="2807" r="5.4"/></g>
</g>
</svg>
